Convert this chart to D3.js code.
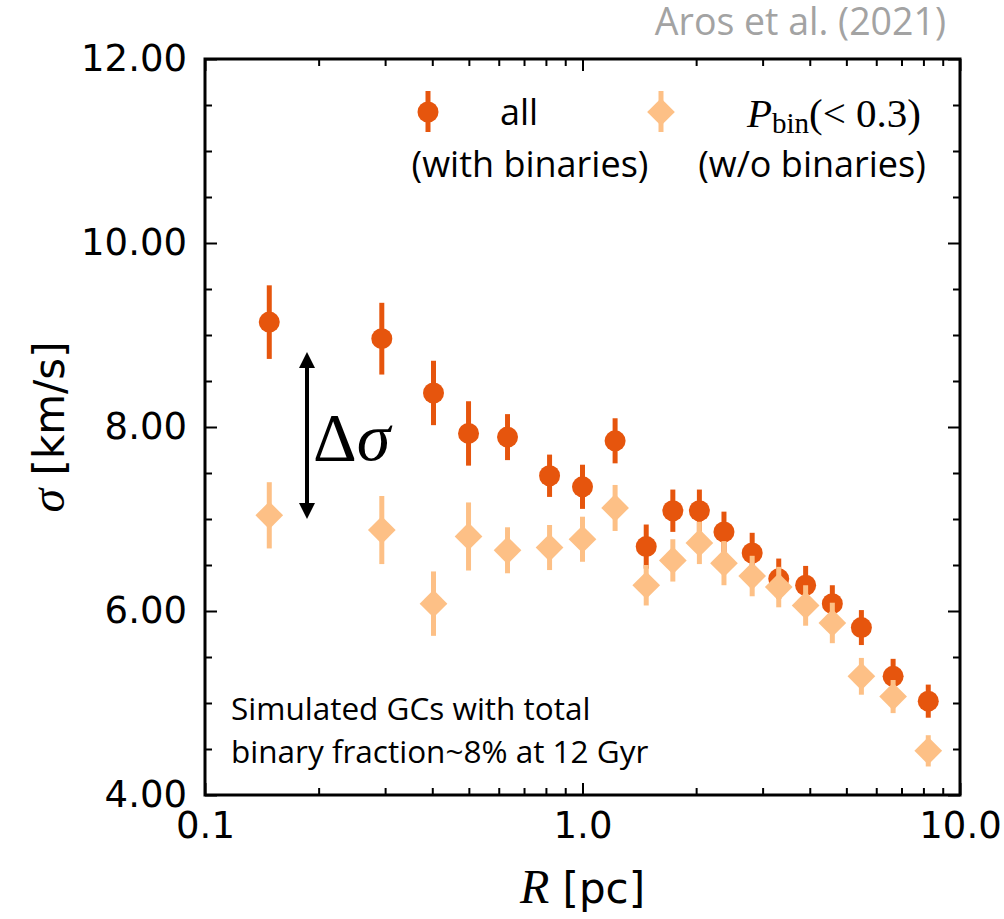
<!DOCTYPE html>
<html>
<head>
<meta charset="utf-8">
<script src="https://cdn.jsdelivr.net/npm/d3@7"></script>
<style>
  body { margin: 0; background: #fff; }
  svg { display: block; }
  .tick text { font-family: "DejaVu Sans", sans-serif; font-size: 37px; fill: #000; }
  .tick line { stroke: #000; stroke-width: 2; }
</style>
</head>
<body>
<svg id="chart" width="1004" height="919"></svg>
<script>
// radius bins (pc)
var radius = [0.148, 0.294, 0.403, 0.499, 0.633, 0.818, 1.0, 1.22, 1.475, 1.735, 2.04, 2.37, 2.815, 3.31, 3.90, 4.59, 5.48, 6.65, 8.24];
// all stars (with binaries)
var sigmaAll = [9.14, 8.96, 8.37, 7.93, 7.89, 7.47, 7.35, 7.85, 6.70, 7.09, 7.09, 6.86, 6.63, 6.35, 6.28, 6.08, 5.82, 5.29, 5.02];
var errAll = [0.40, 0.39, 0.35, 0.35, 0.25, 0.23, 0.24, 0.245, 0.24, 0.23, 0.23, 0.22, 0.22, 0.22, 0.21, 0.20, 0.19, 0.19, 0.18];
// P_bin < 0.3 (w/o binaries)
var sigmaNoBin = [7.04, 6.88, 6.08, 6.81, 6.66, 6.69, 6.78, 7.12, 6.28, 6.55, 6.74, 6.52, 6.38, 6.26, 6.06, 5.87, 5.29, 5.07, 4.48];
var errNoBin = [0.36, 0.37, 0.35, 0.37, 0.25, 0.245, 0.245, 0.25, 0.22, 0.23, 0.23, 0.24, 0.22, 0.22, 0.22, 0.22, 0.20, 0.18, 0.17];

var xMajor = [0.1, 1, 10];
var xMajorLabels = ["0.1", "1.0", "10.0"];
var xMinor = [0.2, 0.3, 0.4, 0.5, 0.6, 0.7, 0.8, 0.9, 2, 3, 4, 5, 6, 7, 8, 9];
var yMajor = [4, 6, 8, 10, 12];
var yMinor = [4.5, 5, 5.5, 6.5, 7, 7.5, 8.5, 9, 9.5, 10.5, 11, 11.5];

var colAll = "#e6550d", colNoBin = "#fdc086";

var svg = d3.select("#chart");
var pLeft = 205, pRight = 960, pTop = 59, pBottom = 795;

var x = d3.scaleLog().domain([0.1, 10]).range([pLeft, pRight]);
var y = d3.scaleLinear().domain([4, 12]).range([pBottom, pTop]);

var ser = radius.map(function(r, i) {
	return {r: r, all: sigmaAll[i], eAll: errAll[i], nb: sigmaNoBin[i], eNb: errNoBin[i]};
});

// ticks on all four sides, pointing in
function ticks(axisFn, scale, transform, vals, size, fmt) {
	var g = svg.append("g").attr("transform", transform)
		.call(axisFn(scale).tickValues(vals).tickSizeInner(-size).tickSizeOuter(0)
			.tickPadding(axisFn === d3.axisBottom ? 17 : 18)
			.tickFormat(fmt || function() { return ""; }));
	g.select(".domain").remove();
	return g;
}
ticks(d3.axisBottom, x, "translate(0," + pBottom + ")", xMajor, 12, function(d, i) { return xMajorLabels[i]; });
ticks(d3.axisBottom, x, "translate(0," + pBottom + ")", xMinor, 7);
ticks(d3.axisTop, x, "translate(0," + pTop + ")", xMajor, 12);
ticks(d3.axisTop, x, "translate(0," + pTop + ")", xMinor, 7);
ticks(d3.axisLeft, y, "translate(" + pLeft + ",0)", yMajor, 12, d3.format(".2f"));
ticks(d3.axisLeft, y, "translate(" + pLeft + ",0)", yMinor, 7);
ticks(d3.axisRight, y, "translate(" + pRight + ",0)", yMajor, 12);
ticks(d3.axisRight, y, "translate(" + pRight + ",0)", yMinor, 7);

svg.append("rect")
	.attr("x", pLeft).attr("y", pTop)
	.attr("width", pRight - pLeft).attr("height", pBottom - pTop)
	.attr("fill", "none").attr("stroke", "#000").attr("stroke-width", 3);

// all stars: circles
var gAll = svg.append("g");
gAll.selectAll("line").data(ser).enter().append("line")
	.attr("x1", function(d) { return x(d.r); }).attr("x2", function(d) { return x(d.r); })
	.attr("y1", function(d) { return y(d.all - d.eAll); })
	.attr("y2", function(d) { return y(d.all + d.eAll); })
	.attr("stroke", colAll).attr("stroke-width", 5);
gAll.selectAll("circle").data(ser).enter().append("circle")
	.attr("cx", function(d) { return x(d.r); })
	.attr("cy", function(d) { return y(d.all); })
	.attr("r", 10.5).attr("fill", colAll);

// low binary probability: diamonds
var diamond = d3.symbol().type(d3.symbolSquare).size(384);
var gNb = svg.append("g");
gNb.selectAll("line").data(ser).enter().append("line")
	.attr("x1", function(d) { return x(d.r); }).attr("x2", function(d) { return x(d.r); })
	.attr("y1", function(d) { return y(d.nb - d.eNb); })
	.attr("y2", function(d) { return y(d.nb + d.eNb); })
	.attr("stroke", colNoBin).attr("stroke-width", 5);
gNb.selectAll("path").data(ser).enter().append("path")
	.attr("d", diamond)
	.attr("transform", function(d) { return "translate(" + x(d.r) + "," + y(d.nb) + ") rotate(45)"; })
	.attr("fill", colNoBin);

// legend
var leg = svg.append("g");
leg.append("line").attr("x1", 428).attr("x2", 428).attr("y1", 91).attr("y2", 132)
	.attr("stroke", colAll).attr("stroke-width", 5);
leg.append("circle").attr("cx", 428).attr("cy", 112).attr("r", 10.5).attr("fill", colAll);
leg.append("line").attr("x1", 661).attr("x2", 661).attr("y1", 91).attr("y2", 132)
	.attr("stroke", colNoBin).attr("stroke-width", 5);
leg.append("path").attr("d", diamond).attr("transform", "translate(661,112) rotate(45)").attr("fill", colNoBin);

var sans = "'Open Sans', sans-serif", serif = "'Liberation Serif', serif";
leg.append("text").attr("x", 519).attr("y", 125).attr("text-anchor", "middle")
	.style("font-family", sans).style("font-size", "36px").text("all");
leg.append("text").attr("x", 530).attr("y", 177).attr("text-anchor", "middle")
	.style("font-family", sans).style("font-size", "36px").text("(with binaries)");
var pb = leg.append("text").attr("x", 921).attr("y", 127).attr("text-anchor", "end")
	.style("font-family", serif).style("font-size", "41px");
pb.append("tspan").style("font-style", "italic").text("P");
pb.append("tspan").attr("dy", 6).style("font-size", "29px").text("bin");
pb.append("tspan").attr("dy", -6).text("(< 0.3)");
leg.append("text").attr("x", 812).attr("y", 177).attr("text-anchor", "middle")
	.style("font-family", sans).style("font-size", "36px").text("(w/o binaries)");

// delta sigma arrow
var ax = 307, a0 = 352, a1 = 519;
svg.append("line").attr("x1", ax).attr("x2", ax).attr("y1", a0 + 10).attr("y2", a1 - 10)
	.attr("stroke", "#000").attr("stroke-width", 4);
svg.append("path").attr("d", "M" + ax + "," + a0 + "L" + (ax - 8) + "," + (a0 + 16) + "L" + (ax + 8) + "," + (a0 + 16) + "Z");
svg.append("path").attr("d", "M" + ax + "," + a1 + "L" + (ax - 8) + "," + (a1 - 16) + "L" + (ax + 8) + "," + (a1 - 16) + "Z");
var ds = svg.append("text").attr("x", 313).attr("y", 460)
	.style("font-family", serif).style("font-size", "68px");
ds.append("tspan").text("\u0394");
ds.append("tspan").style("font-style", "italic").text("\u03c3");

// annotation
svg.append("text").attr("x", 231).attr("y", 720)
	.style("font-family", sans).style("font-size", "31.5px").text("Simulated GCs with total");
svg.append("text").attr("x", 231).attr("y", 763)
	.style("font-family", sans).style("font-size", "31.5px").text("binary fraction~8% at 12 Gyr");

svg.append("text").attr("x", 946).attr("y", 35).attr("text-anchor", "end")
	.style("font-family", sans).style("font-size", "37.5px").style("fill", "#a3a3a3")
	.text("Aros et al. (2021)");

// axis labels
var xl = svg.append("text").attr("x", (pLeft + pRight) / 2).attr("y", 903).attr("text-anchor", "middle")
	.style("font-size", "42px");
xl.append("tspan").style("font-family", serif).style("font-style", "italic").style("font-size", "48px").text("R");
xl.append("tspan").style("font-family", "'DejaVu Sans', sans-serif").text(" [pc]");

var yl = svg.append("text").attr("transform", "translate(64," + ((pTop + pBottom) / 2) + ") rotate(-90)")
	.attr("text-anchor", "middle").style("font-size", "42px");
yl.append("tspan").style("font-family", serif).style("font-style", "italic").style("font-size", "48px").text("\u03c3");
yl.append("tspan").style("font-family", "'DejaVu Sans', sans-serif").text(" [km/s]");
</script>
</body>
</html>
